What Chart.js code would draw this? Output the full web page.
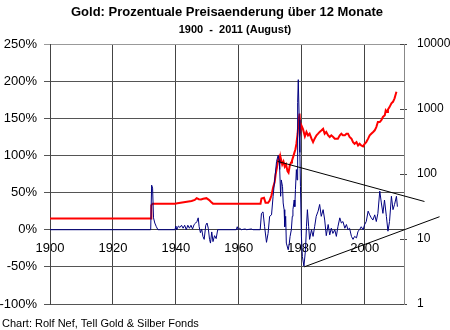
<!DOCTYPE html>
<html><head><meta charset="utf-8">
<script src="https://cdn.jsdelivr.net/npm/chart.js@4/dist/chart.umd.min.js"></script>
<style>html,body{margin:0;padding:0;background:#fff}#c{display:block}</style>
</head><body>
<canvas id="c" width="450" height="330"></canvas>
<script>
const titleText = "Gold: Prozentuale Preisaenderung über 12 Monate";
const subtitleText = "1900  -  2011 (August)";
const footerText = "Chart: Rolf Nef, Tell Gold & Silber Fonds";
const xTickYears = [1900, 1920, 1940, 1960, 1980, 2000];
const rightTickValues = [1, 10, 100, 1000, 10000];

// Gold price (right, log axis)
const goldYears = [1900.0,1932.1,1932.2,1932.6,1939.7,1940.5,1942.0,1943.5,1945.0,1946.0,1946.6,1947.3,1948.0,1948.7,1949.7,1950.5,1951.2,1951.8,
  1966.9,1967.2,1968.0,1968.5,1969.3,1969.8,1970.4,1970.9,1971.4,1971.7,1972.1,1972.5,1972.8,1973.1,1973.4,1973.8,1974.2,1974.6,1975.0,1975.5,1975.8,
  1976.2,1976.6,1976.9,1977.3,1977.7,1978.0,1978.3,1978.7,1979.0,1979.3,1979.6,1979.9,1980.4,1981.0,1981.5,1982.0,1982.5,1983.1,1983.6,1984.1,
  1984.7,1985.2,1985.7,1986.3,1986.8,1987.3,1987.8,1988.4,1988.9,1989.4,1990.0,1990.5,1991.0,1991.5,1992.1,1992.6,1993.1,1993.7,1994.2,1994.7,
  1995.2,1995.8,1996.3,1996.8,1997.4,1997.9,1998.4,1998.9,1999.5,2000.0,2000.5,2001.1,2001.6,2002.1,2002.7,2003.2,2003.7,2004.2,2004.8,2005.3,
  2005.8,2006.4,2006.7,2007.1,2007.4,2007.9,2008.5,2009.0,2009.5,2009.8,2010.1];
const goldPrices = [20.67,20.67,33,35,35,35.5,36.5,37.5,38.5,40,42.5,41,40.5,41.5,42.5,40,37,35,
  35,42,43,36,36,39,47,62,75,98,125,165,182,150,170,140,155,130,140,110,105,
  135,150,160,185,215,240,290,420,670,851,470,560,490,380,444,393,417,350,310,350,
  393,417,444,470,495,417,444,393,371,393,371,350,350,350,393,417,393,393,417,417,
  371,350,310,292,310,275,292,275,266,292,310,350,393,417,444,470,527,630,630,672,
  754,800,955,900,980,1070,1220,1290,1460,1640,1840];

// 12-month percentage change (left axis)
const changeYears = [1900.0,1932.0,1932.3,1932.6,1932.9,1933.3,1933.8,1934.3,1939.7,1940.0,1940.3,1940.8,1941.3,1941.8,1942.3,1942.8,1943.3,1943.8,
  1944.3,1944.8,1945.3,1945.8,1946.3,1946.7,1947.1,1947.4,1947.8,1948.2,1948.6,1949.0,1949.5,1949.9,1950.3,1950.7,1951.0,1951.4,1951.8,1952.3,
  1952.8,1953.3,1959.2,1959.5,1959.8,1960.3,1960.8,1962.0,1962.5,1964.0,1964.5,1966.8,1967.2,1967.7,1968.2,1968.8,1969.3,1969.8,1970.4,1970.9,
  1971.4,1972.0,1972.5,1972.8,1973.0,1973.3,1973.5,1973.9,1974.1,1974.4,1974.6,1974.9,1975.1,1975.7,1976.0,1976.3,1976.7,1977.0,1977.2,1977.6,
  1977.8,1978.0,1978.3,1978.5,1978.6,1978.8,1978.9,1979.2,1979.4,1979.6,1979.9,1980.2,1980.7,1981.2,1981.5,1981.8,1982.2,1982.5,1983.1,1983.6,
  1984.1,1984.6,1985.2,1985.7,1986.2,1986.8,1987.3,1987.8,1988.4,1988.9,1989.4,1989.9,1990.5,1991.0,1991.5,1992.1,1992.6,1993.1,1993.7,1994.2,
  1994.7,1995.2,1995.8,1996.3,1996.8,1997.4,1997.9,1998.4,1998.9,1999.5,2000.0,2000.5,2001.1,2001.6,2002.1,2002.6,2003.2,2003.7,2004.2,2004.8,
  2005.3,2005.8,2006.3,2006.9,2007.4,2007.9,2008.5,2009.0,2009.5,2010.1,2010.4];
const changeValues = [0,0,60,56,16,9,4,0,0,5,0,5,3,6,2,6,0,6,
  2,6,1,7,9,11,16,4,-4,1,-9,-13,6,9,2,-13,-18,-3,-16,-8,
  -12,0,0,4,0,2,0,1,0,1,0,0,22,24,4,-17,-5,18,20,45,
  67,92,100,94,81,45,67,58,36,27,4,18,-18,-27,-20,-9,0,18,27,40,
  31,54,81,67,104,171,202,148,104,58,-9,-36,-49,-27,4,27,4,-13,0,-9,
  4,18,25,34,18,27,13,-8,7,-7,2,-5,0,-9,4,16,9,11,2,7,
  0,2,-9,-13,-9,-11,-2,0,4,0,7,11,25,20,16,13,20,11,22,52,
  36,22,40,18,-2,11,45,27,34,45,31];

// Trend lines (triangle)
const upperTrendYears = [1972.3, 2019.0];
const upperTrendValues = [92, 38];
const lowerTrendYears = [1980.8, 2023.8];
const lowerTrendValues = [-50, 17.5];

const zip = (xs, ys) => xs.map((x, i) => ({x: x, y: ys[i]}));
const FONT = '"Liberation Sans", Arial, sans-serif';

const textPlugin = {
  id: 'texts',
  afterDraw(chart) {
    const ctx = chart.ctx;
    ctx.save();
    ctx.fillStyle = '#000';
    ctx.textBaseline = 'middle';
    ctx.textAlign = 'center';
    ctx.font = 'bold 13px ' + FONT;
    ctx.fillText(titleText, 227, 12);
    ctx.font = 'bold 11px ' + FONT;
    ctx.fillText(subtitleText, 235, 30);
    ctx.textAlign = 'left';
    ctx.font = '11px ' + FONT;
    ctx.fillText(footerText, 2, 324);
    const s = chart.scales.yR;
    ctx.strokeStyle = '#444';
    ctx.lineWidth = 1;
    s.ticks.forEach(t => {
      const y = Math.round(s.getPixelForValue(t.value)) + 0.5;
      ctx.beginPath(); ctx.moveTo(s.left - 4, y); ctx.lineTo(s.left, y); ctx.stroke();
    });
    ctx.restore();
  }
};

new Chart(document.getElementById('c'), {
  type: 'line',
  data: {
    datasets: [
      {label: 'upper', data: zip(upperTrendYears, upperTrendValues), yAxisID: 'yL', borderColor: '#000', borderWidth: 1, pointRadius: 0, clip: false},
      {label: 'lower', data: zip(lowerTrendYears, lowerTrendValues), yAxisID: 'yL', borderColor: '#000', borderWidth: 1, pointRadius: 0, clip: false},
      {label: 'change', data: zip(changeYears, changeValues), yAxisID: 'yL', borderColor: '#000080', borderWidth: 1, pointRadius: 0},
      {label: 'gold', data: zip(goldYears, goldPrices), yAxisID: 'yR', borderColor: '#ff0000', borderWidth: 2, pointRadius: 0}
    ]
  },
  options: {
    responsive: false, animation: false, devicePixelRatio: 1,
    layout: {padding: {top: 44, bottom: 26, left: 0, right: 0}},
    elements: {line: {tension: 0}},
    plugins: {legend: {display: false}, tooltip: {enabled: false}},
    scales: {
      x: {
        type: 'linear', axis: 'x', min: 1900, max: 2012.5, position: {yL: 0},
        afterBuildTicks: s => { s.ticks = xTickYears.map(v => ({value: v})); },
        grid: {color: '#444', tickLength: 8},
        border: {color: '#444'},
        ticks: {padding: 3, color: '#000', font: {size: 13, family: FONT}, maxRotation: 0, autoSkip: false, callback: v => String(v)}
      },
      yL: {
        type: 'linear', position: 'left', min: -100, max: 250,
        afterFit: s => { s.width = 50; },
        grid: {color: c => (c.tick && c.tick.value === 250) ? '#999' : '#555', tickLength: 6},
        border: {color: '#444'},
        ticks: {stepSize: 50, padding: 7, color: '#000', font: {size: 13, family: FONT}, callback: v => v + '%'}
      },
      yR: {
        type: 'logarithmic', position: 'right', min: 1, max: 10000,
        afterBuildTicks: s => { s.ticks = rightTickValues.map(v => ({value: v})); },
        afterFit: s => { s.width = 46; },
        grid: {drawOnChartArea: false, tickLength: 3, color: '#444'},
        border: {color: '#888'},
        ticks: {padding: 10, color: '#000', font: {size: 12, family: FONT}, callback: v => String(v)}
      }
    }
  },
  plugins: [textPlugin]
});
</script>
</body></html>
